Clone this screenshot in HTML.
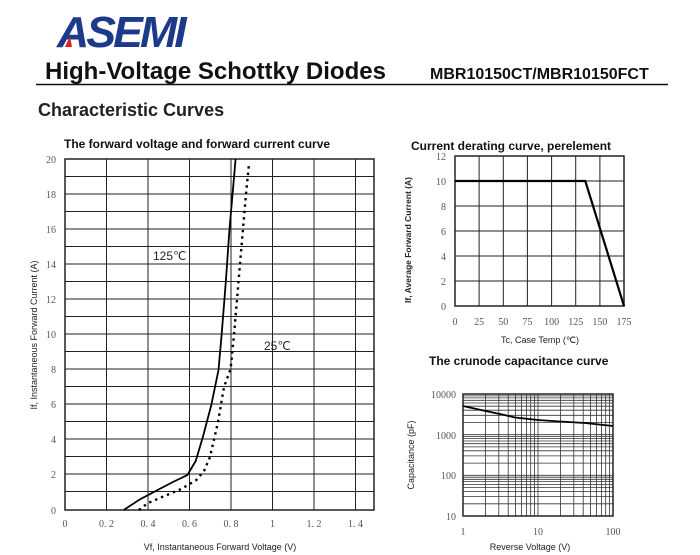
<!DOCTYPE html>
<html><head><meta charset="utf-8"><style>
body{margin:0;background:#fff;width:700px;height:555px;overflow:hidden}
svg{display:block}
text{font-family:"Liberation Sans",Arial,sans-serif}
.s text{font-family:"Liberation Serif",serif;fill:#555;font-size:10px}
</style></head><body>
<svg width="700" height="555" viewBox="0 0 700 555" xmlns="http://www.w3.org/2000/svg">
<!-- logo -->
<g transform="translate(57,47) scale(0.97,0.95)">
<text x="0" y="0" font-size="46" font-weight="bold" font-style="italic" fill="#1d3a8a" letter-spacing="-3">ASEMI</text>
</g>
<polygon points="65,47 70,36 72,47" fill="#d22"/>
<text x="45" y="79" font-size="24" font-weight="bold" fill="#111">High-Voltage Schottky Diodes</text>
<text x="430" y="79" font-size="16" font-weight="bold" fill="#111">MBR10150CT/MBR10150FCT</text>
<line x1="36" y1="84.5" x2="668" y2="84.5" stroke="#111" stroke-width="1.5"/>
<text x="38" y="116" font-size="18" font-weight="bold" fill="#222">Characteristic Curves</text>

<!-- main chart -->
<text x="64" y="148" font-size="12" font-weight="bold" fill="#111">The forward voltage and forward current curve</text>
<g stroke="#222" stroke-width="1">
<rect x="65" y="159" width="309" height="351" fill="none" stroke-width="1.5"/>
<path d="M65,176.5H374M65,194H374M65,211.5H374M65,229H374M65,246.5H374M65,264H374M65,281.5H374M65,299H374M65,316.5H374M65,334H374M65,351.5H374M65,369H374M65,386.5H374M65,404H374M65,421.5H374M65,439H374M65,456.5H374M65,474H374M65,491.5H374"/>
<path d="M106.5,159V510M148,159V510M189.5,159V510M231,159V510M272.5,159V510M314,159V510M355.5,159V510"/>
</g>
<g class="s" text-anchor="end">
<text x="56" y="163">20</text><text x="56" y="198">18</text><text x="56" y="233">16</text><text x="56" y="268">14</text><text x="56" y="303">12</text><text x="56" y="338">10</text><text x="56" y="373">8</text><text x="56" y="408">6</text><text x="56" y="443">4</text><text x="56" y="478">2</text><text x="56" y="514">0</text>
</g>
<g class="s" text-anchor="middle">
<text x="65" y="527">0</text><text x="106.5" y="527">0. 2</text><text x="148" y="527">0. 4</text><text x="189.5" y="527">0. 6</text><text x="231" y="527">0. 8</text><text x="272.5" y="527">1</text><text x="314" y="527">1. 2</text><text x="355.5" y="527">1. 4</text>
</g>
<text x="220" y="550" font-size="9" fill="#222" text-anchor="middle">Vf, Instantaneous Forward Voltage (V)</text>
<text transform="translate(37,335) rotate(-90)" font-size="9" fill="#222" text-anchor="middle">If, Instantaneous Forward Current (A)</text>
<polyline fill="none" stroke="#000" stroke-width="1.8" points="123.7,510 139.7,499.5 156.3,490.7 172.9,482 187.4,475 195.7,461 203,436.5 211.3,405 218.5,370 221.6,335 225.8,282 229.5,229 235.6,159"/>
<polyline fill="none" stroke="#000" stroke-width="2.4" stroke-dasharray="2.4,4" points="138.9,510 148,503 164.6,496 181.2,489 196.4,480 204,471 210,457 218,422 224,387 230.6,369 234,335 240,264 246,194 249,164"/>
<text x="153" y="260" font-size="12" fill="#222">125℃</text>
<text x="264" y="350" font-size="12" fill="#222">25℃</text>

<!-- derating -->
<text x="411" y="150" font-size="12" font-weight="bold" fill="#111">Current derating curve, perelement</text>
<g stroke="#222" stroke-width="1">
<rect x="455" y="156" width="169" height="150" fill="none" stroke-width="1.5"/>
<path d="M455,181H624M455,206H624M455,231H624M455,256H624M455,281H624"/>
<path d="M479.1,156V306M503.3,156V306M527.4,156V306M551.6,156V306M575.7,156V306M599.9,156V306"/>
</g>
<polyline fill="none" stroke="#000" stroke-width="2.2" points="455,181 585.3,181 624,306"/>
<g class="s" text-anchor="end">
<text x="446" y="160">12</text><text x="446" y="185">10</text><text x="446" y="210">8</text><text x="446" y="235">6</text><text x="446" y="260">4</text><text x="446" y="285">2</text><text x="446" y="310">0</text>
</g>
<g class="s" text-anchor="middle">
<text x="455" y="325">0</text><text x="479.1" y="325">25</text><text x="503.3" y="325">50</text><text x="527.4" y="325">75</text><text x="551.6" y="325">100</text><text x="575.7" y="325">125</text><text x="599.9" y="325">150</text><text x="624" y="325">175</text>
</g>
<text x="540" y="343" font-size="9" fill="#222" text-anchor="middle">Tc, Case Temp (℃)</text>
<text transform="translate(411,240) rotate(-90)" font-size="8.5" font-weight="bold" fill="#222" text-anchor="middle">If, Average Forward Current (A)</text>

<!-- capacitance -->
<text x="429" y="365" font-size="12" font-weight="bold" fill="#111">The crunode capacitance curve</text>
<g id="cap" stroke="#333" stroke-width="0.8"></g>
<rect x="463" y="394" width="150" height="122" fill="none" stroke="#222" stroke-width="1.5"/>
<polyline fill="none" stroke="#000" stroke-width="1.8" points="463,406 485.6,411 500,414 515,417.5 538,420 560,421.5 585,423 613,426"/>
<g class="s" text-anchor="end">
<text x="456" y="398">10000</text><text x="456" y="439">1000</text><text x="456" y="479">100</text><text x="456" y="520">10</text>
</g>
<g class="s" text-anchor="middle">
<text x="463" y="535">1</text><text x="538" y="535">10</text><text x="613" y="535">100</text>
</g>
<text x="530" y="550" font-size="9" fill="#222" text-anchor="middle">Reverse Voltage (V)</text>
<text transform="translate(414,455) rotate(-90)" font-size="9" fill="#222" text-anchor="middle">Capacitance (pF)</text>
</svg>
<script>
var g=document.getElementById('cap'),d='';
for(var k=0;k<2;k++)for(var i=1;i<=10;i++){var x=463+75*k+75*Math.log10(i);d+='M'+x.toFixed(1)+',394V516';}
for(var k=0;k<3;k++)for(var i=1;i<=10;i++){var y=516-40.67*k-40.67*Math.log10(i);d+='M463,'+y.toFixed(1)+'H613';}
var p=document.createElementNS('http://www.w3.org/2000/svg','path');p.setAttribute('d',d);g.appendChild(p);
</script>
</body></html>
